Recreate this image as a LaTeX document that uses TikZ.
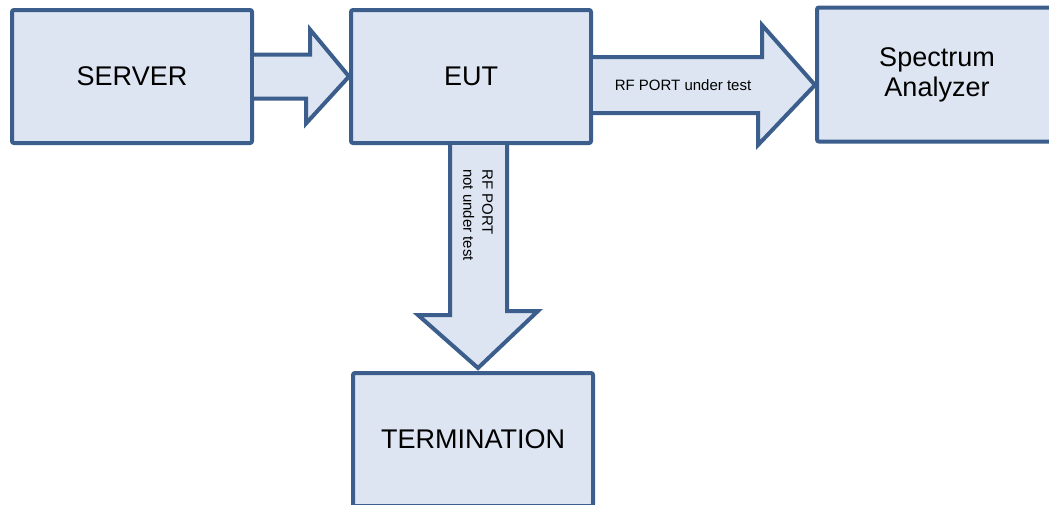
\documentclass[tikz,border=0pt]{standalone}
\usepackage{fontspec}
\setmainfont{Liberation Sans}
\usetikzlibrary{calc}
\definecolor{boxline}{RGB}{59,94,140}
\definecolor{boxfill}{RGB}{221,229,242}
\tikzset{
  unit/.style={draw=boxline,fill=boxfill,line width=4pt,rounded corners=2pt,
    minimum width=240pt,minimum height=133pt,inner sep=0pt,align=center,
    font=\fontsize{27}{30}\selectfont},
  blockarrow/.style={draw=boxline,fill=boxfill,line width=4pt,line join=miter},
  portlabel/.style={inner sep=0pt,font=\fontsize{15}{19}\selectfont}
}
\begin{document}
\begin{tikzpicture}[x=1pt,y=-1pt]
\useasboundingbox (0,0) rectangle (1049,504);
\clip (0,0) rectangle (1049,504);

\node[unit] (server) at (132,76.5) {SERVER};
\node[unit] (eut) at (471,76.5) {EUT};
\node[unit,minimum height=134pt] (sa) at (937,74.5) {Spectrum\\Analyzer};
\node[unit] (term) at (473,439.5) {TERMINATION};

% block arrows, left open at the tail
\draw[blockarrow] ($(server.east)+(0,-22)$) -- ++(56,0) -- ++(0,-25) -- (eut.west)
  -- ++(-43,47) -- ++(0,-25) -- ($(server.east)+(0,22)$);
\draw[blockarrow] ($(eut.east)+(0,-19.5)$) -- ++(169,0) -- ++(0,-32) -- ($(sa.west)+(0,10.5)$)
  -- ++(-57,60) -- ++(0,-32) -- ($(eut.east)+(0,36.5)$);
\draw[blockarrow] ($(eut.south)+(-21,0)$) -- ++(0,170) -- ++(-32,0) -- ($(term.north)+(5,-3)$)
  -- ++(60,-57) -- ++(-31,0) -- ($(eut.south)+(36,0)$);

\node[portlabel] (testport) at ($(eut.east)+(90,8.5)$) {RF PORT under test};
\node[portlabel,rotate=-90,anchor=north west,align=left] (idleport) at ($(eut.south)+(22,24)$)
  {RF PORT\\not under test};

\end{tikzpicture}
\end{document}
